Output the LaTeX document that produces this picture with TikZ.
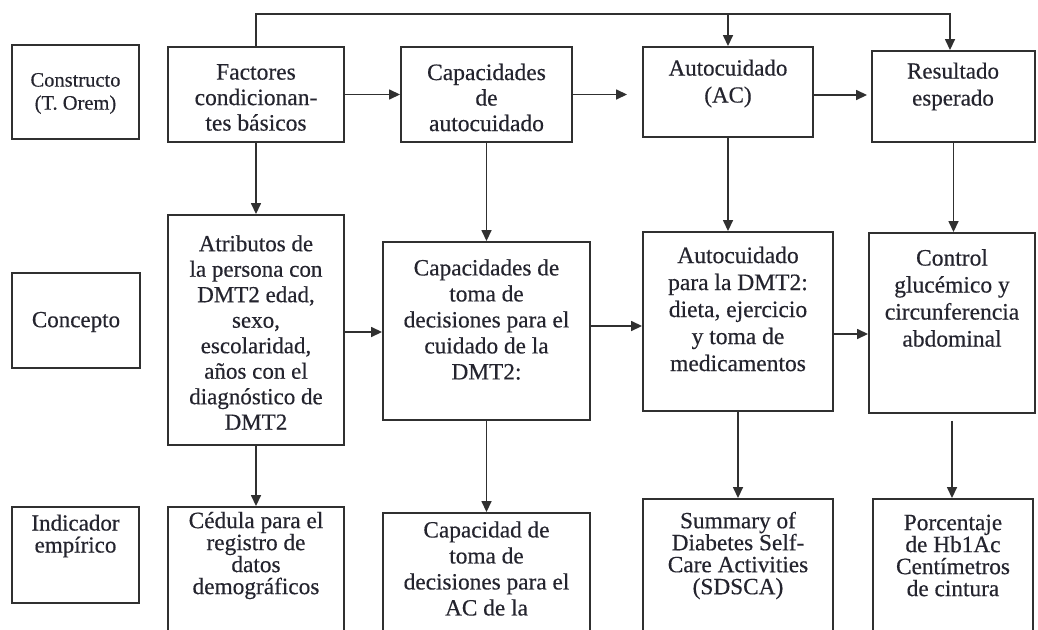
\documentclass[tikz,border=0pt]{standalone}
\usepackage{fontspec}
\setmainfont{Liberation Serif}[FakeBold=0.4]
\usetikzlibrary{arrows.meta}
\definecolor{txt}{HTML}{24242E}
\definecolor{ln}{HTML}{303030}
\begin{document}
\begin{tikzpicture}[x=1pt,y=-1pt,
  box/.style={draw=ln, line width=1.9pt, inner sep=0pt},
  lbl/.style={align=center, inner sep=0pt, text=txt, font=\fontsize{23.3}{26}\selectfont},
  lbls/.style={align=center, inner sep=0pt, text=txt, font=\fontsize{23.3}{22}\selectfont},
  arr/.style={draw=ln, line width=1.5pt, -{Triangle[length=11pt,width=10pt]}}]
\useasboundingbox (0,0) rectangle (1038,629);
\clip (0,0) rectangle (1038,629);
\fill[white] (0,0) rectangle (1038,629);
% row 1
\node[box, minimum width=127pt, minimum height=94pt] (c1) at (75.5,92) {};
\node[box, minimum width=176pt, minimum height=95pt] (f) at (256,94.5) {};
\node[box, minimum width=171pt, minimum height=95pt] (cap) at (486.5,94.5) {};
\node[box, minimum width=170pt, minimum height=90pt] (ac) at (728,92) {};
\node[box, minimum width=163pt, minimum height=91pt] (res) at (953.5,96.5) {};
% row 2
\node[box, minimum width=128pt, minimum height=95pt] (c2) at (76,320.5) {};
\node[box, minimum width=176pt, minimum height=230pt] (atr) at (256,330) {};
\node[box, minimum width=207pt, minimum height=178pt] (ctd) at (486.5,331) {};
\node[box, minimum width=190pt, minimum height=179pt] (adm) at (738,321.5) {};
\node[box, minimum width=166pt, minimum height=180pt] (ctl) at (952,323) {};
% row 3
\node[box, minimum width=127pt, minimum height=96pt] (c3) at (75.5,555) {};
\node[box, minimum width=176pt, minimum height=143pt] (ced) at (256,578.5) {};
\node[box, minimum width=207pt, minimum height=137pt] (cap3) at (486.5,581.5) {};
\node[box, minimum width=190pt, minimum height=151pt] (sum) at (738,574.5) {};
\node[box, minimum width=160pt, minimum height=151pt] (por) at (953,574.5) {};
% labels
\node[lbl, font=\fontsize{20.5}{23}\selectfont] (tc1) at (75.5,93.5) {Constructo\\(T. Orem)};
\node[lbl, font=\fontsize{23.5}{25.5}\selectfont] (tf) at (256,97.5) {Factores\\condicionan-\\tes básicos};
\node[lbl, font=\fontsize{23.5}{25.5}\selectfont] (tcap) at (486.5,97.5) {Capacidades\\de\\autocuidado};
\node[lbl, font=\fontsize{23}{27}\selectfont] (tac) at (728,83.5) {Autocuidado\\(AC)};
\node[lbl, font=\fontsize{23}{27}\selectfont] (tres) at (953,86.5) {Resultado\\esperado};
\node[lbl, font=\fontsize{23}{26}\selectfont] (tc2) at (76,322) {Concepto};
\node[lbl, font=\fontsize{23}{25.5}\selectfont] (tatr) at (256,332.5) {Atributos de\\la persona con\\DMT2 edad,\\sexo,\\escolaridad,\\años con el\\diagnóstico de\\DMT2};
\node[lbl] (tctd) at (486.5,319.5) {Capacidades de\\toma de\\decisiones para el\\cuidado de la\\DMT2:};
\node[lbl, font=\fontsize{23.5}{27}\selectfont] (tadm) at (738,309) {Autocuidado\\para la DMT2:\\dieta, ejercicio\\y toma de\\medicamentos};
\node[lbl, font=\fontsize{23.5}{27}\selectfont] (tctl) at (952,298) {Control\\glucémico y\\circunferencia\\abdominal};
\node[lbls, font=\fontsize{23}{22}\selectfont] (tc3) at (75.5,536) {Indicador\\empírico};
\node[lbls] (tced) at (256,555.5) {Cédula para el\\registro de\\datos\\demográficos};
\node[lbl] (tcap3) at (486.5,568.5) {Capacidad de\\toma de\\decisiones para el\\AC de la};
\node[lbls] (tsum) at (738,555.5) {Summary of\\Diabetes Self-\\Care Activities\\(SDSCA)};
\node[lbls] (tpor) at (953,555.5) {Porcentaje\\de Hb1Ac\\Centímetros\\de cintura};
% top connector
\coordinate (tl) at (256,14);
\coordinate (tr) at (950,14);
\draw[arr] (f.north) -- (tl) -- (tr) -- (tr |- res.north);
\draw[arr] (ac.north |- tl) -- (ac.north);
% row 1 horizontal
\draw[arr] (f.east) -- (f.east -| cap.west);
\draw[arr, shorten >=15pt] (cap.east) -- (cap.east -| ac.west);
\draw[arr, shorten >=4pt] ([yshift=-3pt]ac.east) -- ([yshift=-3pt]ac.east -| res.west);
% row 1 -> row 2
\draw[arr] (f.south) -- (atr.north);
\draw[arr] (cap.south) -- (cap.south |- ctd.north);
\draw[arr] (ac.south) -- (ac.south |- adm.north);
\draw[arr] (res.south) -- (res.south |- ctl.north);
% row 2 horizontal
\draw[arr] ([yshift=-2pt]atr.east) -- ([yshift=-2pt]atr.east -| ctd.west);
\draw[arr] ([yshift=5pt]ctd.east) -- ([yshift=5pt]ctd.east -| adm.west);
\draw[arr] ([yshift=-12.5pt]adm.east) -- ([yshift=-12.5pt]adm.east -| ctl.west);
% row 2 -> row 3
\draw[arr] (atr.south) -- (ced.north);
\draw[arr] (ctd.south) -- (ctd.south |- cap3.north);
\draw[arr] (adm.south) -- (adm.south |- sum.north);
\draw[arr, shorten <=7pt] (ctl.south) -- (ctl.south |- por.north);
\end{tikzpicture}
\end{document}
